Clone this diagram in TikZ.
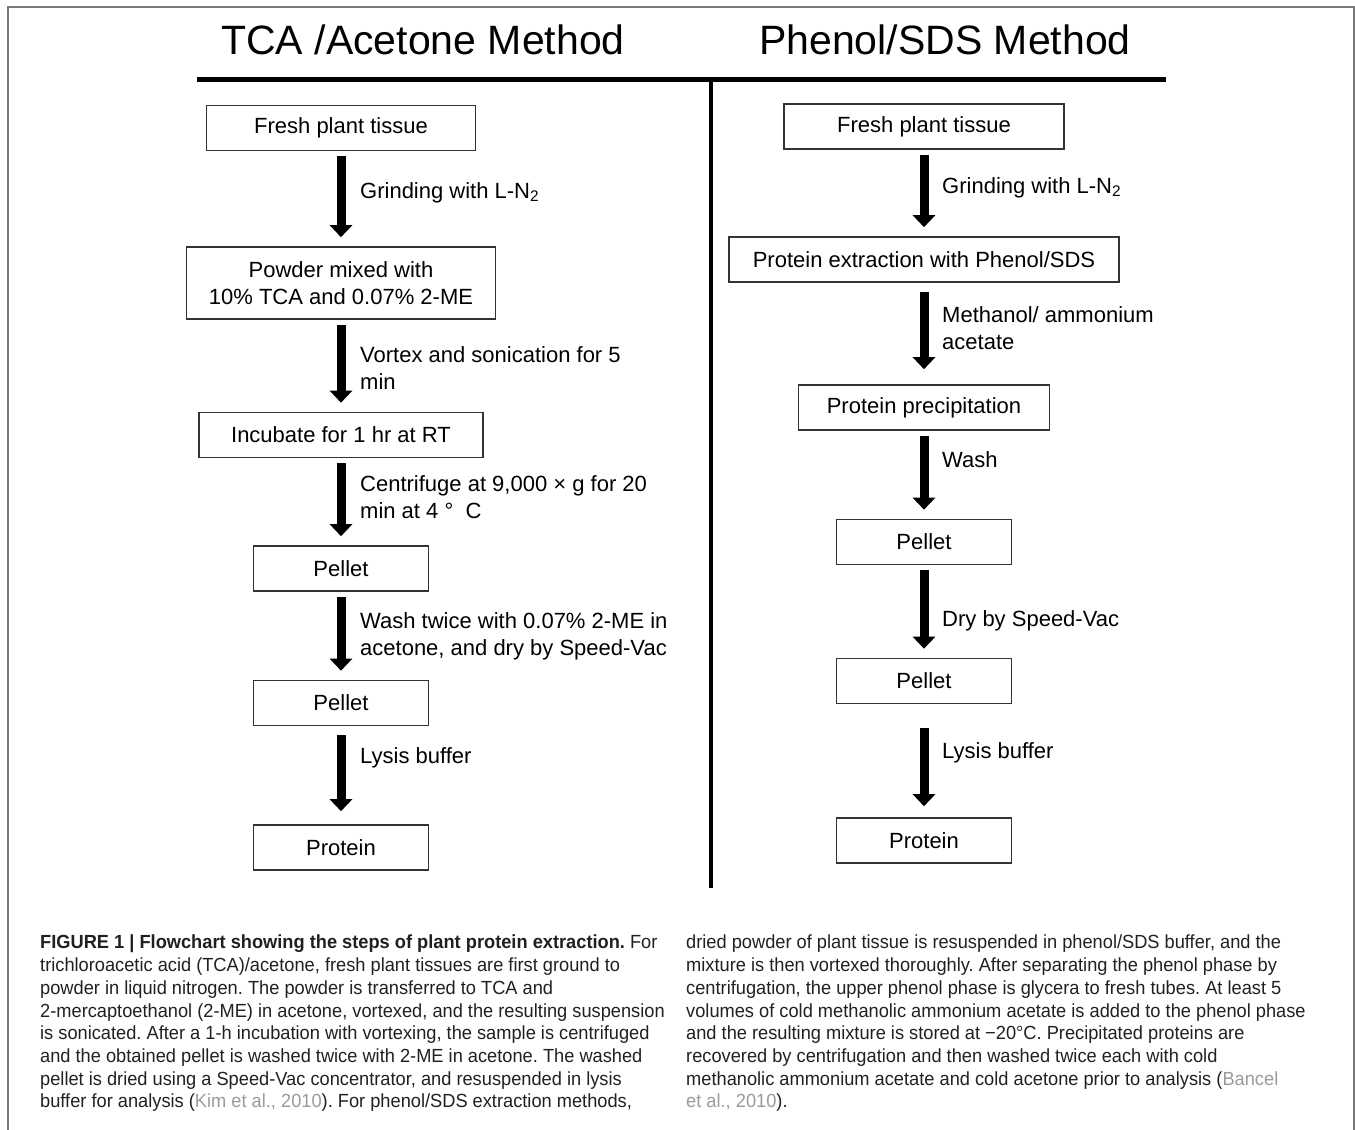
\documentclass[tikz,border=0pt]{standalone}
\usepackage{fontspec}
\setmainfont{Liberation Sans}
\newfontfamily\capfont[FakeStretch=0.96]{Liberation Sans}
\usetikzlibrary{arrows.meta}
\definecolor{citegray}{HTML}{9A9A9A}
\definecolor{framegray}{HTML}{7A7A7A}
\definecolor{captext}{HTML}{231F20}
\frenchspacing

\begin{document}
\begin{tikzpicture}[x=1pt,y=-1pt,
    stepbox/.style={draw=black!80, line width=1.6pt, inner sep=0pt, align=center,
      font=\fontsize{22}{27}\selectfont, minimum height=45pt},
    flowarrow/.style={line width=9pt, -{Triangle[width=22pt,length=12pt]},
      shorten <=5pt, shorten >=9pt},
    flowlabel/.style={anchor=west, inner sep=0pt, align=left,
      font=\fontsize{22}{27}\selectfont},
    headline/.style={inner sep=0pt, font=\fontsize{41}{49}\selectfont},
    captext/.style={anchor=north west, inner sep=0pt, align=left, text=captext,
      font=\capfont\fontsize{19}{22.7}\selectfont}]
  \useasboundingbox (0,0) rectangle (1355,1130);
  \draw [framegray, line width=1.5pt] (8,1130) -- (8,7) -- (1354,7) -- (1354,1130);

  % headings and rules
  \node [headline] (tcahead) at (423,40) {TCA /Acetone Method};
  \node [headline] (phenhead) at (945,40) {Phenol/SDS Method};
  \draw [line width=5pt] (197,79) -- (1166,79);
  \draw [line width=4pt] (711,79) -- (711,888);

  % TCA/acetone column
  \node [stepbox, minimum width=269pt] (t1) at (341,128) {Fresh plant tissue};
  \node [stepbox, minimum width=309pt, minimum height=72pt] (t2) at (341,283)
    {Powder mixed with\\10\% TCA and 0.07\% 2-ME};
  \node [stepbox, minimum width=284pt] (t3) at (341,435) {Incubate for 1 hr at RT};
  \node [stepbox, minimum width=175pt] (t4) at (341,568.5) {Pellet};
  \node [stepbox, minimum width=175pt] (t5) at (341,703) {Pellet};
  \node [stepbox, minimum width=175pt] (t6) at (341,847.5) {Protein};

  \draw [flowarrow] (t1) -- (t2);
  \draw [flowarrow] (t2) -- (t3);
  \draw [flowarrow] (t3) -- (t4);
  \draw [flowarrow] (t4) -- (t5);
  \draw [flowarrow, shorten <=9pt, shorten >=13pt] (t5) -- (t6);

  \node [flowlabel] (tl1) at (360,192.5) {Grinding with L-N\textsubscript{2}};
  \node [flowlabel] (tl2) at (360,368) {Vortex and sonication for 5\\min};
  \node [flowlabel] (tl3) at (360,497) {Centrifuge at 9,000 × g for 20\\min at 4 °\ \ C};
  \node [flowlabel] (tl4) at (360,636) {Wash twice with 0.07\% 2-ME in\\acetone, and dry by Speed-Vac};
  \node [flowlabel] (tl5) at (360,757.5) {Lysis buffer};

  % phenol/SDS column
  \node [stepbox, minimum width=280pt] (p1) at (924,126.5) {Fresh plant tissue};
  \node [stepbox, minimum width=390pt] (p2) at (924,259.5) {Protein extraction with Phenol/SDS};
  \node [stepbox, minimum width=251pt] (p3) at (924,407.5) {Protein precipitation};
  \node [stepbox, minimum width=175pt] (p4) at (924,542) {Pellet};
  \node [stepbox, minimum width=175pt] (p5) at (924,681) {Pellet};
  \node [stepbox, minimum width=175pt] (p6) at (924,840.5) {Protein};

  \draw [flowarrow] (p1) -- (p2);
  \draw [flowarrow, shorten <=9pt, shorten >=15pt] (p2) -- (p3);
  \draw [flowarrow] (p3) -- (p4);
  \draw [flowarrow] (p4) -- (p5);
  \draw [flowarrow, shorten <=24pt, shorten >=11pt] (p5) -- (p6);

  \node [flowlabel] (pl1) at (942,187.5) {Grinding with L-N\textsubscript{2}};
  \node [flowlabel] (pl2) at (942,328) {Methanol/ ammonium\\acetate};
  \node [flowlabel] (pl3) at (942,460) {Wash};
  \node [flowlabel] (pl4) at (942,620.5) {Dry by Speed-Vac};
  \node [flowlabel] (pl5) at (942,752.5) {Lysis buffer};

  % caption
  \node [captext] (capleft) at (40,935) {%
    \textbf{FIGURE 1 | Flowchart showing the steps of plant protein extraction.} For\\
    trichloroacetic acid (TCA)/acetone, fresh plant tissues are first ground to\\
    powder in liquid nitrogen. The powder is transferred to TCA and\\
    2-mercaptoethanol (2-ME) in acetone, vortexed, and the resulting suspension\\
    is sonicated. After a 1-h incubation with vortexing, the sample is centrifuged\\
    and the obtained pellet is washed twice with 2-ME in acetone. The washed\\
    pellet is dried using a Speed-Vac concentrator, and resuspended in lysis\\
    buffer for analysis ({\color{citegray}Kim et al., 2010}). For phenol/SDS extraction methods,};
  \node [captext] (capright) at (686,935) {%
    dried powder of plant tissue is resuspended in phenol/SDS buffer, and the\\
    mixture is then vortexed thoroughly. After separating the phenol phase by\\
    centrifugation, the upper phenol phase is glycera to fresh tubes. At least 5\\
    volumes of cold methanolic ammonium acetate is added to the phenol phase\\
    and the resulting mixture is stored at −20°C. Precipitated proteins are\\
    recovered by centrifugation and then washed twice each with cold\\
    methanolic ammonium acetate and cold acetone prior to analysis ({\color{citegray}Bancel}\\
    {\color{citegray}et al., 2010}).};
\end{tikzpicture}
\end{document}
